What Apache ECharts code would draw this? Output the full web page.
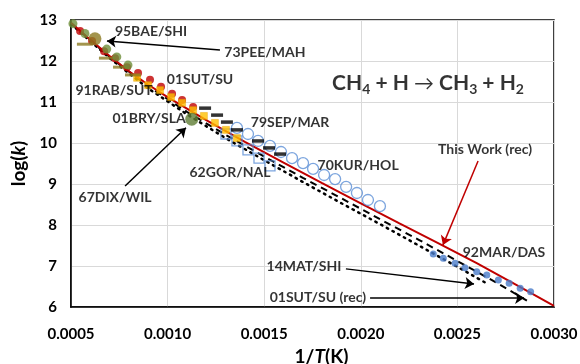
<!DOCTYPE html>
<html>
<head>
<meta charset="utf-8">
<script src="https://cdn.jsdelivr.net/npm/echarts@6/dist/echarts.min.js"></script>
<style>html,body{margin:0;padding:0;background:#fff}#c{width:580px;height:364px}</style>
</head>
<body>
<div id="c"></div>
<script>
// ---------- data (1/T in 1/K, log k) ----------
const xTicks = [0.0005, 0.0010, 0.0015, 0.0020, 0.0025, 0.0030];
const yTicks = [6, 7, 8, 9, 10, 11, 12, 13];

// This Work (rec) – red line
const thisWorkX = [0.0005, 0.0006, 0.0007, 0.0008, 0.0009, 0.0010, 0.0012, 0.0014, 0.0016, 0.0018, 0.0020, 0.0022, 0.0024, 0.0026, 0.0028, 0.0030];
const thisWorkY = [12.93, 12.52, 12.12, 11.75, 11.42, 11.12, 10.56, 10.03, 9.52, 9.02, 8.53, 8.04, 7.56, 7.07, 6.55, 6.03];

// 01SUT/SU (rec) – dashed black line
const sutRecX = [0.0005, 0.0007, 0.0009, 0.0011, 0.0013, 0.0015, 0.0017, 0.0019, 0.0021, 0.0023, 0.0025, 0.0027, 0.00288];
const sutRecY = [12.92, 12.10, 11.38, 10.76, 10.20, 9.67, 9.15, 8.65, 8.14, 7.64, 7.12, 6.60, 6.10];

// 14MAT/SHI – dotted black line
const matX = [0.0005, 0.0007, 0.0009, 0.0011, 0.0013, 0.0015, 0.0017, 0.0019, 0.0021, 0.0023, 0.0025, 0.00265];
const matY = [12.90, 12.07, 11.33, 10.70, 10.12, 9.58, 9.05, 8.53, 8.02, 7.50, 6.98, 6.58];

// 95BAE/SHI – small green circles
const baeX = [0.00051, 0.000572, 0.000685, 0.000737, 0.000795];
const baeY = [12.91, 12.67, 12.29, 12.10, 11.90];

// 91RAB/SUT – red circles
const rabX = [0.000547, 0.000609, 0.000671, 0.000728, 0.00079, 0.000847, 0.000909, 0.000966, 0.001023, 0.001075, 0.001132];
const rabY = [12.73, 12.49, 12.24, 12.07, 11.85, 11.71, 11.54, 11.37, 11.20, 11.05, 10.88];

// 01SUT/SU – yellow squares
const sutX = [0.000842, 0.000899, 0.000961, 0.001018, 0.001075, 0.001132, 0.001188, 0.001245, 0.001302, 0.001359];
const sutY = [11.59, 11.41, 11.29, 11.12, 10.98, 10.80, 10.66, 10.49, 10.32, 10.12];

// 73PEE/MAH – brown dashes and big brown circle
const peeX = [0.000572, 0.000686, 0.000759, 0.000821];
const peeY = [12.41, 12.07, 11.85, 11.66];
const peeBigX = [0.000624];
const peeBigY = [12.54];

// 01BRY/SLA, 67DIX/WIL – big green circle
const bryX = [0.001125];
const bryY = [10.58];

// 79SEP/MAR – black dashes
const sepX = [0.001194, 0.001256, 0.001307, 0.001359, 0.001468, 0.001525, 0.001582];
const sepY = [10.85, 10.68, 10.51, 10.32, 10.05, 9.88, 9.73];

// 62GOR/NAL – open blue squares
const gorX = [0.001302, 0.001359, 0.001416, 0.001473, 0.00153];
const gorY = [10.22, 10.05, 9.83, 9.63, 9.44];

// 70KUR/HOL – open blue circles
const kurX = [0.001359, 0.001416, 0.001468, 0.00153, 0.001587, 0.001644, 0.001701, 0.001753, 0.00181, 0.001867, 0.001924, 0.00198, 0.002037, 0.002099];
const kurY = [10.37, 10.22, 10.05, 9.93, 9.78, 9.63, 9.51, 9.37, 9.22, 9.12, 8.93, 8.78, 8.61, 8.46];

// 92MAR/DAS – filled blue dots
const marX = [0.002375, 0.002427, 0.002488, 0.002539, 0.0026, 0.002652, 0.002712, 0.002768, 0.002825, 0.002879];
const marY = [7.29, 7.19, 7.07, 6.96, 6.86, 6.78, 6.66, 6.58, 6.46, 6.37];

// annotation labels (data coordinates)
const labelText = ['95BAE/SHI', '73PEE/MAH', '01SUT/SU', '91RAB/SUT', '01BRY/SLA', '79SEP/MAR', '62GOR/NAL', '70KUR/HOL', '67DIX/WIL', 'This Work (rec)', '92MAR/DAS', '14MAT/SHI', '01SUT/SU (rec)'];
const labelX = [0.000914, 0.001504, 0.001168, 0.000723, 0.000904, 0.001634, 0.001323, 0.001986, 0.000728, 0.002643, 0.002741, 0.001706, 0.001778];
const labelY = [12.71, 12.20, 11.54, 11.27, 10.59, 10.49, 9.27, 9.46, 8.68, 9.83, 7.32, 7.00, 6.22];
const eqX = 0.002348, eqY = 11.46;

// annotation arrows: [x1, y1, x2, y2]
const arrowsBlack = [
  [0.001271, 12.27, 0.000686, 12.49],
  [0.00078, 8.95, 0.001095, 10.37],
  [0.001923, 6.93, 0.002586, 6.56],
  [0.002048, 6.22, 0.002845, 6.22]
];
const arrowsRed = [[0.002607, 9.56, 0.002425, 7.51]];

// ---------- chart ----------
const zip = (xs, ys) => xs.map((x, i) => [x, ys[i]]);
const FONT = 'Lato';
const chart = echarts.init(document.getElementById('c'), null, {renderer: 'canvas'});

function markerSeries(name, xs, ys, symbol, size, style, z) {
  return {type: 'scatter', name, data: zip(xs, ys), symbol, symbolSize: size, itemStyle: style, z: z || 3, silent: true, animation: false};
}

const option = {
  animation: false,
  backgroundColor: '#fff',
  grid: {left: 71, right: 26, top: 20, bottom: 57, show: true, borderColor: '#000', borderWidth: 1.5, backgroundColor: 'transparent',
    containLabel: false, outerBoundsMode: 'none'},
  xAxis: {
    type: 'value', min: 0.0005, max: 0.0030, interval: 0.0005,
    axisLine: {show: true, lineStyle: {color: '#000', width: 1.5}},
    axisTick: {show: false},
    splitLine: {show: true, lineStyle: {color: '#d9d9d9', width: 1}},
    axisLabel: {color: '#000', fontFamily: FONT, fontWeight: 'bold', fontSize: 15, margin: 20,
      formatter: v => { const i = xTicks.findIndex(t => Math.abs(t - v) < 1e-9); return i >= 0 ? xTicks[i].toFixed(4) : ''; }},
    name: '1/{i|T}(K)', nameLocation: 'middle', nameGap: 36,
    nameTextStyle: {color: '#000', fontFamily: FONT, fontWeight: 'bold', fontSize: 19, padding: [0, 0, 0, 18],
      rich: {i: {fontStyle: 'italic', fontWeight: 'bold', fontFamily: FONT, fontSize: 19, color: '#000'}}}
  },
  yAxis: {
    type: 'value', min: 6, max: 13, interval: 1,
    axisLine: {show: true, lineStyle: {color: '#000', width: 1.5}},
    axisTick: {show: false},
    splitLine: {show: true, lineStyle: {color: '#d9d9d9', width: 1}},
    axisLabel: {color: '#000', fontFamily: FONT, fontWeight: 'bold', fontSize: 15, margin: 14,
      formatter: v => { const i = yTicks.indexOf(v); return i >= 0 ? String(yTicks[i]) : ''; }},
    name: 'log({i|k})', nameLocation: 'middle', nameGap: 39, nameRotate: 90,
    nameTextStyle: {color: '#000', fontFamily: FONT, fontWeight: 'bold', fontSize: 19,
      rich: {i: {fontStyle: 'italic', fontWeight: 'bold', fontFamily: FONT, fontSize: 19, color: '#000'}}}
  },
  series: [
    {type: 'line', name: '14MAT/SHI', data: zip(matX, matY), showSymbol: false, symbol: 'none', z: 2,
      lineStyle: {color: '#000', width: 2.5, type: [1.5, 5], cap: 'round'}},
    {type: 'line', name: '01SUT/SU (rec)', data: zip(sutRecX, sutRecY), showSymbol: false, symbol: 'none', z: 2,
      lineStyle: {color: '#000', width: 2, type: [7, 5]}},
    {type: 'line', name: 'This Work (rec)', data: zip(thisWorkX, thisWorkY), showSymbol: false, symbol: 'none', z: 2,
      lineStyle: {color: '#C00000', width: 2}},
    markerSeries('70KUR/HOL', kurX, kurY, 'circle', 11, {color: 'rgba(255,255,255,0)', borderColor: '#5B8ED6', borderWidth: 1.3}),
    markerSeries('62GOR/NAL', gorX, gorY, 'rect', 10, {color: 'rgba(255,255,255,0)', borderColor: '#5B8ED6', borderWidth: 1.3}),
    markerSeries('91RAB/SUT', rabX, rabY, 'circle', 8, {color: '#C00000'}),
    markerSeries('01SUT/SU', sutX, sutY, 'rect', 7, {color: '#FFC000', borderColor: '#E8A000', borderWidth: 0.5}, 4),
    markerSeries('79SEP/MAR', sepX, sepY, 'rect', [12, 3.5], {color: '#000'}, 5),
    markerSeries('95BAE/SHI', baeX, baeY, 'circle', 9, {color: '#6E8F3A'}, 5),
    markerSeries('73PEE/MAH', peeX, peeY, 'rect', [16, 3], {color: '#8C7A22'}, 4),
    markerSeries('73PEE/MAH big', peeBigX, peeBigY, 'circle', 13, {color: '#8C7A22'}, 6),
    markerSeries('01BRY/SLA', bryX, bryY, 'circle', 13, {color: '#5F7D35'}, 6),
    markerSeries('92MAR/DAS', marX, marY, 'circle', 7, {color: '#4A7CC9'}, 5),
    {type: 'lines', coordinateSystem: 'cartesian2d', z: 7, silent: true, animation: false,
      symbol: ['none', 'arrow'], symbolSize: 9,
      lineStyle: {color: '#000', width: 1.5, opacity: 1},
      data: arrowsBlack.map(a => ({coords: [[a[0], a[1]], [a[2], a[3]]]}))},
    {type: 'lines', coordinateSystem: 'cartesian2d', z: 7, silent: true, animation: false,
      symbol: ['none', 'arrow'], symbolSize: 9,
      lineStyle: {color: '#C00000', width: 1.5, opacity: 1},
      data: arrowsRed.map(a => ({coords: [[a[0], a[1]], [a[2], a[3]]]}))},
    {type: 'scatter', name: 'labels', symbolSize: 0, z: 8, silent: true, animation: false,
      data: labelText.map((t, i) => ({value: [labelX[i], labelY[i]], name: t})),
      label: {show: true, position: 'inside', formatter: p => p.name, color: '#000', fontFamily: FONT, fontWeight: 'bold', fontSize: 14}},
    {type: 'scatter', name: 'equation', symbolSize: 0, z: 8, silent: true, animation: false,
      data: [{value: [eqX, eqY], name: 'eq'}],
      label: {show: true, position: 'inside', color: '#000', fontFamily: FONT,
        formatter: 'CH{s|4} + H {a|\u2192} CH{s|3} + H{s|2}',
        rich: {
          s: {fontFamily: FONT, fontSize: 14, fontWeight: 'bold', color: '#000', padding: [12, 0, 0, 0]},
          a: {fontFamily: FONT, fontSize: 20, fontWeight: 'normal', color: '#000'}
        },
        fontWeight: 'bold', fontSize: 21}}
  ]
};
chart.setOption(option);
</script>
</body>
</html>
